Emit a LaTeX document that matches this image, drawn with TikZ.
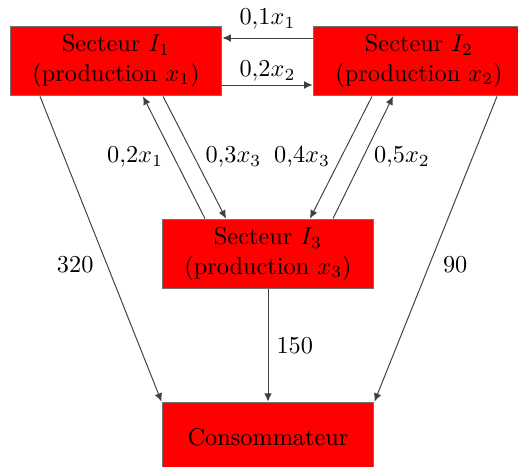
\documentclass[tikz,border=0pt]{standalone}
\usepackage{amsmath}
\usepackage{tikz}
\usetikzlibrary{calc,arrows.meta}
\colorlet{box_fill}{red}
\colorlet{box_draw}{black!55}
\colorlet{flux_line}{black!75}
\tikzset{
    secteur/.style={draw=box_draw,fill=box_fill,minimum width=3.066cm,minimum height=1.01cm,align=center,inner sep=2pt},
    flux/.style={-{Latex[length=1.2mm,width=1.1mm]},flux_line},
    taux/.style={text=black},
}

\begin{document}
\begin{tikzpicture}[x=0.01446cm,y=0.01446cm]
  \useasboundingbox (0,0) rectangle (518,466);
  % Sectors and consumer
  \node[secteur] (S1) at (116,405) {Secteur $I_1$\\(production $x_1$)};
  \node[secteur] (S2) at (419,405) {Secteur $I_2$\\(production $x_2$)};
  \node[secteur] (S3) at (268,212) {Secteur $I_3$\\(production $x_3$)};
  \node[secteur] (C) at (268,29) {Consommateur};
  % Exchanges between sectors 1 and 2
  \draw[flux] ($(S2.west)+(0,23)$) -- ($(S1.east)+(0,23)$) node[taux,midway,above] {$0{,}1x_1$};
  \draw[flux] ($(S1.east)+(0,-24)$) -- ($(S2.west)+(0,-24)$) node[taux,midway,above,yshift=-2pt] {$0{,}2x_2$};
  % Exchanges with sector 3
  \draw[flux] ($(S3.north)+(-63,0)$) -- ($(S1.south)+(27,0)$) node[taux,midway,left=1pt] {$0{,}2x_1$};
  \draw[flux] ($(S1.south)+(47,0)$) -- ($(S3.north)+(-42,0)$) node[taux,midway,right=1pt] {$0{,}3x_3$};
  \draw[flux] ($(S2.south)+(-47,0)$) -- ($(S3.north)+(42,0)$) node[taux,midway,left=1pt] {$0{,}4x_3$};
  \draw[flux] ($(S3.north)+(65,0)$) -- ($(S2.south)+(-26,0)$) node[taux,midway,right=1pt] {$0{,}5x_2$};
  % Final demand
  \draw[flux] ($(S1.south)+(-76,0)$) -- (C.north west) node[taux,pos=0.55,left=2pt] {$320$};
  \draw[flux] ($(S2.south)+(78,0)$) -- (C.north east) node[taux,pos=0.55,right=2pt] {$90$};
  \draw[flux] (S3.south) -- (C.north) node[taux,midway,right] {$150$};
\end{tikzpicture}
\end{document}
